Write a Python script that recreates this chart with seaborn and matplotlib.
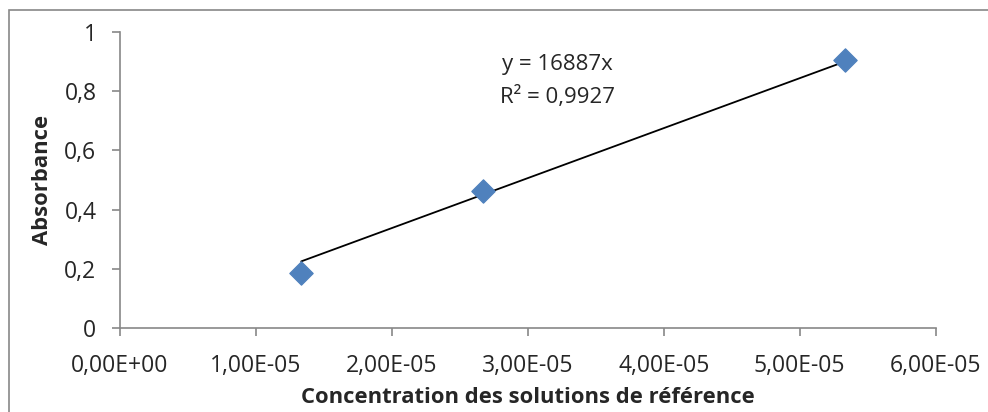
import seaborn as sns
import matplotlib.pyplot as plt
from matplotlib.patches import Rectangle
import matplotlib.ticker as mticker
import numpy as np
import pandas

conc = [1.333e-5, 2.667e-5, 5.333e-5]
absorb = [0.186, 0.463, 0.905]
slope = 16887  # trendline through origin, y = 16887x
r2_label = "R² = 0,9927"

df = pandas.DataFrame({"conc": conc, "abs": absorb})
trend = pandas.DataFrame({"conc": [min(conc), max(conc)]})
trend["abs"] = slope * trend["conc"]

sns.set_style("white")
plt.rcParams["font.family"] = ["Open Sans", "DejaVu Sans"]

fig = plt.figure(figsize=(9.88, 4.12), dpi=100)
ax = fig.add_axes([0.1215, 0.204, 0.8255, 0.718])

sns.lineplot(data=trend, x="conc", y="abs", color="black", linewidth=1.3, ax=ax)
sns.scatterplot(data=df, x="conc", y="abs", marker="D", s=140, color="#4F81BD",
                edgecolor="#4F81BD", ax=ax, zorder=3)


def sci_fmt(v, p):
    s = ("%.2E" % v).replace(".", ",")
    return s.replace("E-00", "E+00") if abs(v) < 1e-12 else s


ax.set_xlim(0, 6e-5)
ax.set_ylim(0, 1)
ax.set_xticks(np.arange(0, 7e-5, 1e-5))
ax.set_yticks([0, 0.2, 0.4, 0.6, 0.8, 1])
ax.xaxis.set_major_formatter(mticker.FuncFormatter(sci_fmt))
ax.yaxis.set_major_formatter(mticker.FuncFormatter(
    lambda v, p: ("%g" % v).replace(".", ",")))

for s in ["top", "right"]:
    ax.spines[s].set_visible(False)
for s in ["left", "bottom"]:
    ax.spines[s].set_color("#888888")
    ax.spines[s].set_linewidth(1.2)
ax.tick_params(axis="both", direction="out", length=6, width=1.2, color="#888888",
               labelsize=16.5, bottom=True, left=True)
ax.tick_params(axis="x", pad=13)
ax.tick_params(axis="y", pad=11)

ax.set_xlabel("Concentration des solutions de référence", fontsize=15.8, fontweight="bold", labelpad=6)
ax.set_ylabel("Absorbance", fontsize=15.8, fontweight="bold", labelpad=8)

ax.text(3.22e-5, 0.89, "y = 16887x", fontsize=16, ha="center", va="center")
ax.text(3.22e-5, 0.78, r2_label, fontsize=16, ha="center", va="center")

fig.patches.append(Rectangle((9 / 988, -0.05), 1.1, 1 - 10 / 412 + 0.05,
                             transform=fig.transFigure, fill=False,
                             edgecolor="#888888", linewidth=1.2))

fig.savefig("out.png", dpi=100)
